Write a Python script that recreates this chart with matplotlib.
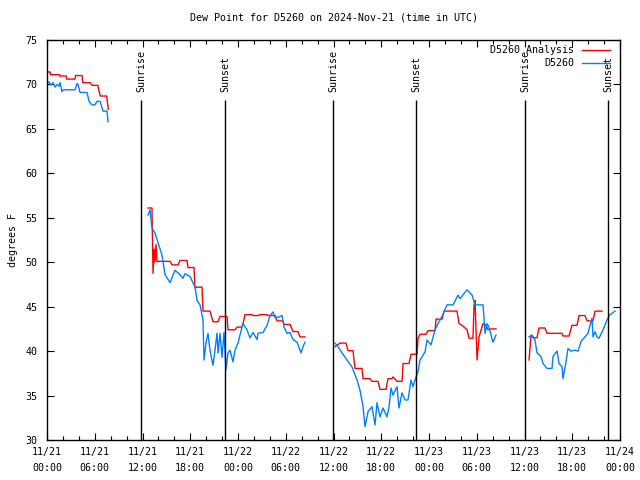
import numpy as np
import matplotlib
matplotlib.use("Agg")
import matplotlib.pyplot as plt
from matplotlib.ticker import FixedLocator, MultipleLocator

nan = np.nan
# hours since 2024-11-21 00:00 UTC
analysis_t = [0.0, 0.4, 0.4, 1.6, 1.6, 2.4, 2.5, 3.5, 3.6, 4.4, 4.5, 5.4, 5.7, 6.4, 6.5, 6.7, 7.5, 7.7, nan,
              12.69, 13.19, 13.32, 13.45, 13.57, 13.70, 13.82, 15.46, 15.71, 16.46, 16.71, 17.59, 17.72, 18.47, 18.60,
              18.85, 19.48, 19.60, 20.48, 20.86, 21.49, 21.74, 22.62, 22.74, 23.62, 23.88, 24.50, 24.63, 24.88, 25.76,
              25.89, 26.51, 26.76, 27.65, 27.77, 28.65, 28.90, 29.66, 29.78, 30.54, 30.91, 31.54, 31.79, 32.42, nan,
              36.19, 36.82, 37.57, 37.82, 38.45, 38.70, 39.58, 39.71, 40.59, 40.84, 41.59, 41.84, 42.60, 42.85, 43.35,
              43.48, 43.98, 44.61, 44.74, 45.49, 45.74, 46.50, 46.62, 46.87, 47.63, 47.88, 48.76, 48.88, 49.64, 49.89,
              51.52, 51.77, 52.15, 52.78, 53.03, 53.53, 53.66, 53.78, 54.04, 54.29, 54.79, 55.17, 55.42, 55.79, 56.42, nan,
              60.57, 60.82, 61.07, 61.57, 61.82, 62.58, 62.83, 64.71, 64.84, 65.59, 65.97, 66.60, 66.85, 67.60, 67.86,
              68.61, 68.86, 69.74]
analysis_v = [71.4, 71.4, 71.1, 71.1, 70.95, 70.95, 70.6, 70.6, 71.0, 71.0, 70.2, 70.2, 69.9, 69.9, 69.4, 68.7, 68.7, 67.2, nan,
              56.1, 56.1, 48.75, 51.5, 50.0, 52.0, 50.1, 50.1, 49.7, 49.7, 50.2, 50.2, 49.4, 49.4, 47.1,
              47.2, 47.2, 44.5, 44.5, 43.3, 43.3, 43.9, 43.9, 42.4, 42.4, 42.7, 42.7, 43.1, 44.1, 44.1,
              44.0, 44.0, 44.1, 44.1, 44.0, 44.0, 43.4, 43.4, 43.0, 43.0, 42.2, 42.2, 41.6, 41.6, nan,
              40.5, 40.9, 40.9, 40.05, 40.05, 38.05, 38.05, 36.9, 36.9, 36.6, 36.6, 35.7, 35.7, 36.9, 36.9,
              37.1, 36.6, 36.6, 38.6, 38.6, 39.65, 39.65, 41.45, 41.9, 41.9, 42.3, 42.3, 43.6, 43.6, 44.5,
              44.5, 43.1, 42.9, 42.4, 41.45, 41.45, 45.2, 45.7, 39.0, 41.6, 43.1, 42.9, 42.4, 42.5, 42.5, nan,
              39.0, 41.8, 41.5, 41.5, 42.6, 42.6, 42.0, 42.0, 41.7, 41.7, 42.9, 42.9, 44.0, 44.0, 43.4,
              43.4, 44.5, 44.5]

station_t = [0.0, 0.25, 0.5, 0.75, 1.0, 1.26, 1.51, 1.63, 1.88, 2.01, 3.52, 3.77, 3.90, 4.15, 5.03, 5.28, 5.65, 6.03,
             6.28, 6.66, 7.04, 7.54, 7.67, nan,
             12.69, 12.94, 13.19, 13.57, 13.95, 14.45, 14.83, 15.46, 16.08, 16.71, 17.09, 17.34, 17.97, 18.60, 18.85,
             19.23, 19.60, 19.73, 19.98, 20.23, 20.48, 20.86, 21.11, 21.36, 21.49, 21.74, 21.99, 22.24, 22.49, 22.74,
             23.00, 23.37, 23.62, 24.00, 24.50, 24.63, 25.13, 25.51, 25.89, 26.39, 26.51, 27.14, 27.65, 28.02, 28.40,
             28.65, 29.03, 29.53, 29.78, 30.16, 30.54, 30.91, 31.42, 31.92, 32.17, 32.42, nan,
             36.19, 36.57, 37.07, 37.70, 38.33, 38.96, 39.33, 39.71, 39.96, 40.34, 40.84, 40.97, 41.22, 41.47, 41.84,
             42.22, 42.72, 42.98, 43.23, 43.48, 43.98, 44.23, 44.61, 44.99, 45.36, 45.74, 45.99, 46.37, 46.62, 46.87,
             47.50, 47.75, 48.25, 48.76, 49.13, 49.64, 50.26, 51.02, 51.65, 51.90, 52.78, 53.41, 53.78, 54.79, 55.04,
             55.29, 55.54, 56.04, 56.42, nan,
             60.57, 60.95, 61.32, 61.57, 62.08, 62.33, 62.83, 63.46, 63.58, 64.09, 64.34, 64.71, 64.84, 65.22, 65.47,
             65.84, 66.35, 66.73, 67.10, 67.60, 67.98, 68.23, 68.48, 68.61, 68.86, 69.11, 69.36, 69.87, 70.37, 70.75,
             71.38]
station_v = [70.1, 70.3, 69.9, 70.2, 69.7, 70.0, 69.8, 70.2, 69.2, 69.4, 69.4, 70.1, 70.0, 69.1, 69.1, 68.1, 67.7, 67.7,
             68.1, 68.1, 67.0, 67.0, 65.8, nan,
             55.3, 55.9, 53.85, 53.3, 52.2, 50.8, 48.6, 47.7, 49.1, 48.6, 48.2, 48.7, 48.4, 47.2, 45.7,
             45.2, 43.5, 39.0, 40.9, 42.0, 40.1, 38.4, 40.1, 42.0, 39.8, 42.0, 39.3, 42.1, 37.9, 39.8,
             40.1, 38.8, 40.1, 40.9, 42.7, 43.1, 42.4, 41.5, 42.1, 41.3, 42.0, 42.1, 42.9, 44.0, 44.4,
             43.8, 43.8, 44.0, 42.7, 42.0, 42.1, 41.3, 41.0, 39.8, 40.5, 41.0, nan,
             40.9, 40.5, 39.8, 39.0, 38.2, 36.75, 35.6, 33.75, 31.5, 33.2, 33.75, 33.0, 31.7, 34.2, 32.6,
             33.6, 32.6, 33.75, 35.85, 35.05, 36.0, 33.6, 35.3, 34.5, 34.5, 36.75, 36.0, 37.1, 37.7, 39.0,
             39.9, 41.25, 40.7, 42.4, 43.1, 43.9, 45.2, 45.2, 46.3, 45.9, 46.9, 46.3, 45.2, 45.2, 42.0,
             43.1, 42.7, 41.0, 41.8, nan,
             41.6, 41.8, 41.25, 39.8, 39.4, 38.6, 38.05, 38.05, 39.4, 40.0, 38.6, 38.25, 36.9, 38.8, 40.3,
             40.0, 40.1, 40.0, 41.1, 41.6, 42.0, 42.9, 43.7, 41.6, 42.2, 41.6, 41.45, 42.4, 43.5, 44.1,
             44.5]

sun_t = [11.81, 22.37, 35.94, 46.37, 60.07, 70.5]
sun_labels = ["Sunrise", "Sunset", "Sunrise", "Sunset", "Sunrise", "Sunset"]

tick_hours = [0, 6, 12, 18, 24, 30, 36, 42, 48, 54, 60, 66, 72]
tick_labels = ["11/21\n00:00", "11/21\n06:00", "11/21\n12:00", "11/21\n18:00",
               "11/22\n00:00", "11/22\n06:00", "11/22\n12:00", "11/22\n18:00",
               "11/23\n00:00", "11/23\n06:00", "11/23\n12:00", "11/23\n18:00",
               "11/24\n00:00"]
yticks = [30, 35, 40, 45, 50, 55, 60, 65, 70, 75]

FONT = "DejaVu Sans Mono"
FS = 7.2
plt.rcParams['font.family'] = FONT

fig = plt.figure(figsize=(6.4, 4.8), dpi=100)
ax = fig.add_axes([47/640, 40/480, 573/640, 400/480])

ax.plot(analysis_t, analysis_v, color="#ff0000", lw=1.0)
ax.plot(station_t, station_v, color="#0080ff", lw=1.0)

for t, lab in zip(sun_t, sun_labels):
    ax.vlines(t, 30, 68.3, color="black", lw=1.0)
    ax.text(t, 69.1, lab, rotation=90, ha="center", va="bottom", fontsize=FS, family=FONT)

ax.set_xlim(0, 72)
ax.set_ylim(30, 75)
ax.xaxis.set_major_locator(FixedLocator(tick_hours))
ax.set_xticklabels(tick_labels, fontsize=FS, family=FONT, linespacing=1.7)
ax.xaxis.set_minor_locator(MultipleLocator(2))
ax.set_yticks(yticks)
ax.set_yticklabels([str(v) for v in yticks], fontsize=FS, family=FONT)
ax.tick_params(which="both", direction="in", top=True, right=True, width=0.8)
ax.tick_params(which="major", length=5, pad=5)
ax.tick_params(axis="y", which="major", pad=7)
ax.tick_params(which="minor", length=3)
for s in ax.spines.values():
    s.set_linewidth(1.0)

ax.set_ylabel("degrees F", fontsize=FS, family=FONT, labelpad=5)
ax.set_title("Dew Point for D5260 on 2024-Nov-21 (time in UTC)", fontsize=FS, family=FONT, pad=14)

# legend drawn manually (right-aligned text, sample line at right)
ax.text(0.920, 0.975, "D5260 Analysis", transform=ax.transAxes, ha="right", va="center", fontsize=FS, family=FONT)
ax.plot([0.934, 0.9825], [0.975, 0.975], transform=ax.transAxes, color="#ff0000", lw=1.0)
ax.text(0.920, 0.9435, "D5260", transform=ax.transAxes, ha="right", va="center", fontsize=FS, family=FONT)
ax.plot([0.934, 0.9825], [0.9435, 0.9435], transform=ax.transAxes, color="#0080ff", lw=1.0)

fig.savefig("out.png", dpi=100)
